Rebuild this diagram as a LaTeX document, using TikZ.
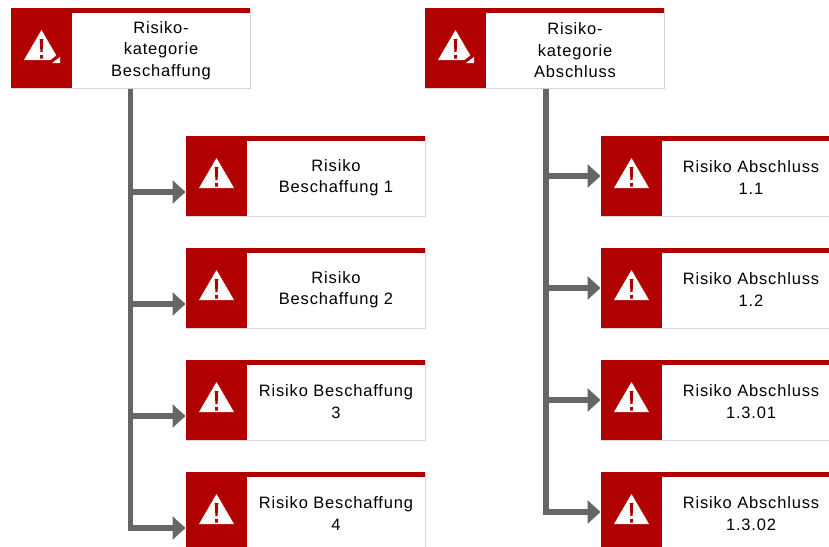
\documentclass[tikz,border=0pt]{standalone}
\usepackage{fontspec}
\setmainfont[LetterSpace=5]{Liberation Sans}
\usetikzlibrary{arrows.meta}
\definecolor{riskred}{HTML}{B00000}
\definecolor{linkgray}{HTML}{666666}
\definecolor{boxgray}{HTML}{D4D4D4}
\tikzset{
  riskbox/.style={draw=boxgray,line width=1pt,fill=white,minimum width=239pt,minimum height=80pt,inner sep=0pt},
  risktext/.style={align=center,font=\fontsize{16.5}{21.5}\selectfont,inner sep=0pt},
  link/.style={draw=linkgray,line width=5.5pt,-{Triangle[length=13pt,width=23pt]}},
  warnsign/.pic={
    \fill[riskred] (0,0) rectangle (61,80);
    \fill[riskred] (0,0) rectangle (239,4.5);
    \fill[white] (30.5,22) -- (48,52) -- (13,52) -- cycle;
    \fill[riskred] (28.7,31) -- (32.3,31) -- (31.6,44) -- (29.4,44) -- cycle (29,47) rectangle (32,50.5);
  },
  cornermark/.pic={
    \fill[riskred] (37,54) -- (50,54) -- (50,44) -- cycle;
    \fill[white] (41,55) -- (49,55) -- (49,49) -- cycle;
  }
}
\begin{document}
\begin{tikzpicture}[x=1pt,y=-1pt,line cap=butt,line join=miter]
  \useasboundingbox (0,0) rectangle (829,546);
  \clip (0,0) rectangle (829,546);

  % categories
  \foreach \n/\xx/\txt in {kb/130.5/{Risiko-\\kategorie\\Beschaffung},ka/544.5/{Risiko-\\kategorie\\Abschluss}}{
    \node[riskbox] (\n) at (\xx,48) {};
    \pic at ([xshift=-119.5pt,yshift=40pt]\n.center) {warnsign};
    \pic at ([xshift=-119.5pt,yshift=40pt]\n.center) {cornermark};
    \node[risktext] (\n t) at ([xshift=30.5pt,yshift=-2.5pt]\n.center) {\txt};
  }

  % risks
  \foreach \n/\yy/\txt in {rb1/176/{Risiko\\Beschaffung 1},rb2/288/{Risiko\\Beschaffung 2},rb3/400/{Risiko Beschaffung\\3},rb4/512/{Risiko Beschaffung\\4}}{
    \node[riskbox] (\n) at (305.5,\yy) {};
    \pic at ([xshift=-119.5pt,yshift=40pt]\n.center) {warnsign};
    \node[risktext] (\n t) at ([xshift=30.5pt,yshift=-1.5pt]\n.center) {\txt};
  }
  \foreach \n/\yy/\txt in {ra1/176/{Risiko Abschluss\\1.1},ra2/288/{Risiko Abschluss\\1.2},ra3/400/{Risiko Abschluss\\1.3.01},ra4/512/{Risiko Abschluss\\1.3.02}}{
    \node[riskbox] (\n) at (720.5,\yy) {};
    \pic at ([xshift=-119.5pt,yshift=40pt]\n.center) {warnsign};
    \node[risktext] (\n t) at ([xshift=30.5pt,yshift=-1.5pt]\n.center) {\txt};
  }

  % connectors
  \foreach \n in {rb1,rb2,rb3}
    \draw[link] ([yshift=-16pt]\n.west -| kb.south) -- ([yshift=-16pt]\n.west);
  \draw[link] (kb.south) |- ([yshift=-16pt]rb4.west);
  \foreach \n in {ra1,ra2,ra3}
    \draw[link] ([xshift=1.5pt]\n.west -| ka.south) -- (\n.west);
  \draw[link] ([xshift=1.5pt]ka.south) |- (ra4.west);
\end{tikzpicture}
\end{document}
